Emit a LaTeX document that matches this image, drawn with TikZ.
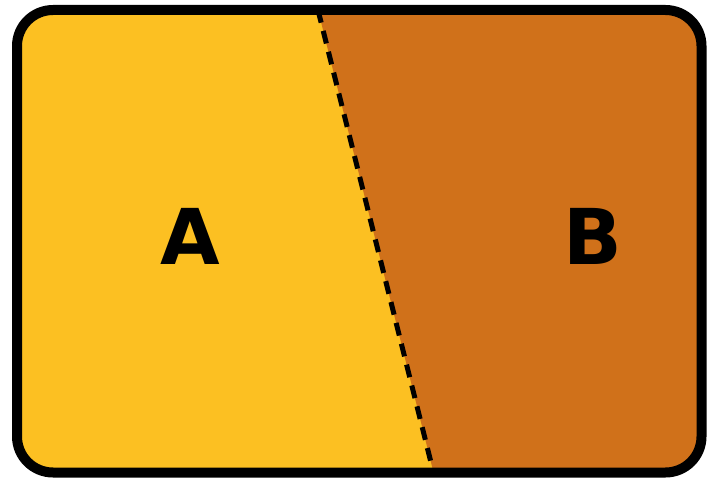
\documentclass[tikz,border=0pt]{standalone}
\usepackage{fontspec}
\setmainfont{DejaVu Sans}
\definecolor{ayellow}{RGB}{252,192,34}
\definecolor{borange}{RGB}{208,113,26}
\begin{document}
\begin{tikzpicture}[x=1pt,y=-1pt,
  lbl/.style={font=\fontsize{77}{77}\selectfont\bfseries, inner sep=0pt, anchor=center},
  divider/.style={line width=5pt, dash pattern=on 13pt off 8.5pt},
  frame/.style={line width=10pt, rounded corners=36pt}]
\useasboundingbox (0,0) rectangle (714,481);
\coordinate (t) at (318,10);
\coordinate (b) at (433.5,472.5);
\begin{scope}
\clip[rounded corners=36pt] (17,10) rectangle (701.5,472.5);
\fill[ayellow] (0,0) rectangle (714,481);
\fill[borange] (t) -- (714,10) -- (714,481) -- (b) -- cycle;
\end{scope}
\draw[divider] (t) -- (b);
\draw[frame] (17,10) rectangle (701.5,472.5);
\node[lbl] (A) at (190.5,236) {A};
\node[lbl] (B) at (592.5,236) {B};
\end{tikzpicture}
\end{document}
